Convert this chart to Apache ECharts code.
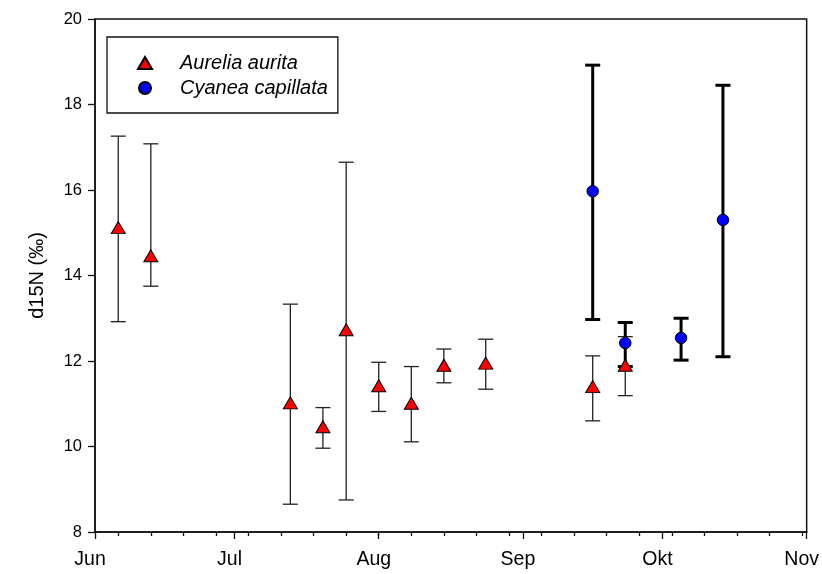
<!DOCTYPE html>
<html><head><meta charset="utf-8">
<script src="https://cdn.jsdelivr.net/npm/echarts@6/dist/echarts.min.js"></script>
<style>html,body{margin:0;padding:0;background:#fff}#c{width:822px;height:574px}</style>
</head><body><div id="c"></div>
<script>
// Axis labels and ticks
const monthLabels = ['Jun', 'Jul', 'Aug', 'Sep', 'Okt', 'Nov'];
const monthStarts = ['06-01', '07-01', '08-01', '09-01', '10-01', '11-01'];
const weekTickFirst = '06-06';
const yMin = 8, yMax = 20, yStep = 2;

// Aurelia aurita (triangles)
const aureliaDates = ['06-06', '06-13', '07-13', '07-20', '07-25', '08-01', '08-08', '08-15', '08-24', '09-16', '09-23'];
const aureliaMean  = [15.12, 14.46, 11.02, 10.46, 12.73, 11.42, 11.01, 11.90, 11.95, 11.40, 11.90];
const aureliaLow   = [12.92, 13.75, 8.65, 9.96, 8.75, 10.82, 10.11, 11.49, 11.34, 10.60, 11.19];
const aureliaHigh  = [17.26, 17.08, 13.33, 10.91, 16.65, 11.97, 11.87, 12.28, 12.51, 12.12, 12.57];

// Cyanea capillata (circles)
const cyaneaDates = ['09-16', '09-23', '10-05', '10-14'];
const cyaneaMean  = [15.97, 12.42, 12.54, 15.30];
const cyaneaLow   = [12.97, 11.87, 12.02, 12.10];
const cyaneaHigh  = [18.92, 12.90, 13.00, 18.45];

function dayOf(md) {
  const p = md.split('-').map(Number);
  return (Date.UTC(2001, p[0] - 1, p[1]) - Date.UTC(2001, 5, 1)) / 86400000;
}
const majorDays = monthStarts.map(dayOf);
const xMax = majorDays[majorDays.length - 1];
const weekDays = [];
for (let d = dayOf(weekTickFirst); d < xMax; d += 7) weekDays.push(d);

function errSeries(name, dates, low, high, lw, color) {
  return {
    type: 'custom', name: name, silent: true,
    data: dates.map((d, i) => [dayOf(d), low[i], high[i]]),
    encode: { x: 0, y: [1, 2] },
    renderItem: function (params, api) {
      const x = api.value(0);
      const lo = api.coord([x, api.value(1)]);
      const hi = api.coord([x, api.value(2)]);
      const cap = 7.5;
      const style = { stroke: color, lineWidth: lw };
      return { type: 'group', children: [
        { type: 'line', shape: { x1: lo[0], y1: lo[1], x2: hi[0], y2: hi[1] }, style: style },
        { type: 'line', shape: { x1: lo[0] - cap, y1: lo[1], x2: lo[0] + cap, y2: lo[1] }, style: style },
        { type: 'line', shape: { x1: hi[0] - cap, y1: hi[1], x2: hi[0] + cap, y2: hi[1] }, style: style }
      ]};
    }
  };
}

const chart = echarts.init(document.getElementById('c'), null, { renderer: 'canvas' });
const font = "'Liberation Sans', Arial, sans-serif";
chart.setOption({
  animation: false,
  textStyle: { fontFamily: font, color: '#000' },
  grid: { left: 95, right: 14, top: 19, bottom: 42, show: true, borderColor: '#111', borderWidth: 1.5, backgroundColor: 'transparent' },
  legend: {
    orient: 'vertical', left: 107, top: 37,
    data: ['Aurelia aurita', 'Cyanea capillata'],
    borderColor: '#111', borderWidth: 1.3, borderRadius: 0,
    padding: [16, 10, 15, 30], itemGap: 5, itemWidth: 14, itemHeight: 12,
    textStyle: { fontStyle: 'italic', fontSize: 20, color: '#000', fontFamily: font, padding: [0, 0, 0, 23] }
  },
  xAxis: [{
    type: 'value', min: 0, max: xMax, position: 'bottom',
    axisLine: { show: true, lineStyle: { color: '#111', width: 1.5 } },
    axisTick: { show: true, inside: false, length: 7, customValues: majorDays, lineStyle: { color: '#111', width: 1.3 } },
    axisLabel: { show: true, customValues: majorDays, margin: 18, fontSize: 19.5, color: '#000', fontFamily: font,
      padding: [0, 10, 0, 0],
      formatter: function (v) { const i = majorDays.indexOf(v); return i >= 0 ? monthLabels[i] : ''; } },
    splitLine: { show: false }
  }, {
    type: 'value', min: 0, max: xMax, position: 'bottom',
    axisLine: { show: false },
    axisTick: { show: true, inside: false, length: 4, customValues: weekDays, lineStyle: { color: '#111', width: 1.3 } },
    axisLabel: { show: false },
    splitLine: { show: false }
  }],
  yAxis: {
    type: 'value', min: yMin, max: yMax, interval: yStep,
    name: 'd15N (‰)', nameLocation: 'middle', nameGap: 48,
    nameTextStyle: { fontSize: 20, color: '#000', fontFamily: font },
    axisLine: { show: true, lineStyle: { color: '#111', width: 1.5 } },
    axisTick: { show: true, inside: false, length: 7, lineStyle: { color: '#111', width: 1.3 } },
    axisLabel: { margin: 13, fontSize: 16.5, color: '#000', fontFamily: font },
    splitLine: { show: false }
  },
  series: [
    errSeries('Aurelia err', aureliaDates, aureliaLow, aureliaHigh, 1.3, '#222'),
    {
      type: 'scatter', name: 'Aurelia aurita', symbol: 'triangle', symbolSize: [14, 12],
      data: aureliaDates.map((d, i) => [dayOf(d), aureliaMean[i]]),
      itemStyle: { color: '#ff0000', borderColor: '#000', borderWidth: 1, opacity: 1 }
    },
    errSeries('Cyanea err', cyaneaDates, cyaneaLow, cyaneaHigh, 3, '#000'),
    {
      type: 'scatter', name: 'Cyanea capillata', symbol: 'circle', symbolSize: 11.5,
      data: cyaneaDates.map((d, i) => [dayOf(d), cyaneaMean[i]]),
      itemStyle: { color: '#0000ff', borderColor: '#000', borderWidth: 1, opacity: 1 }
    }
  ]
});
</script>
</body></html>
